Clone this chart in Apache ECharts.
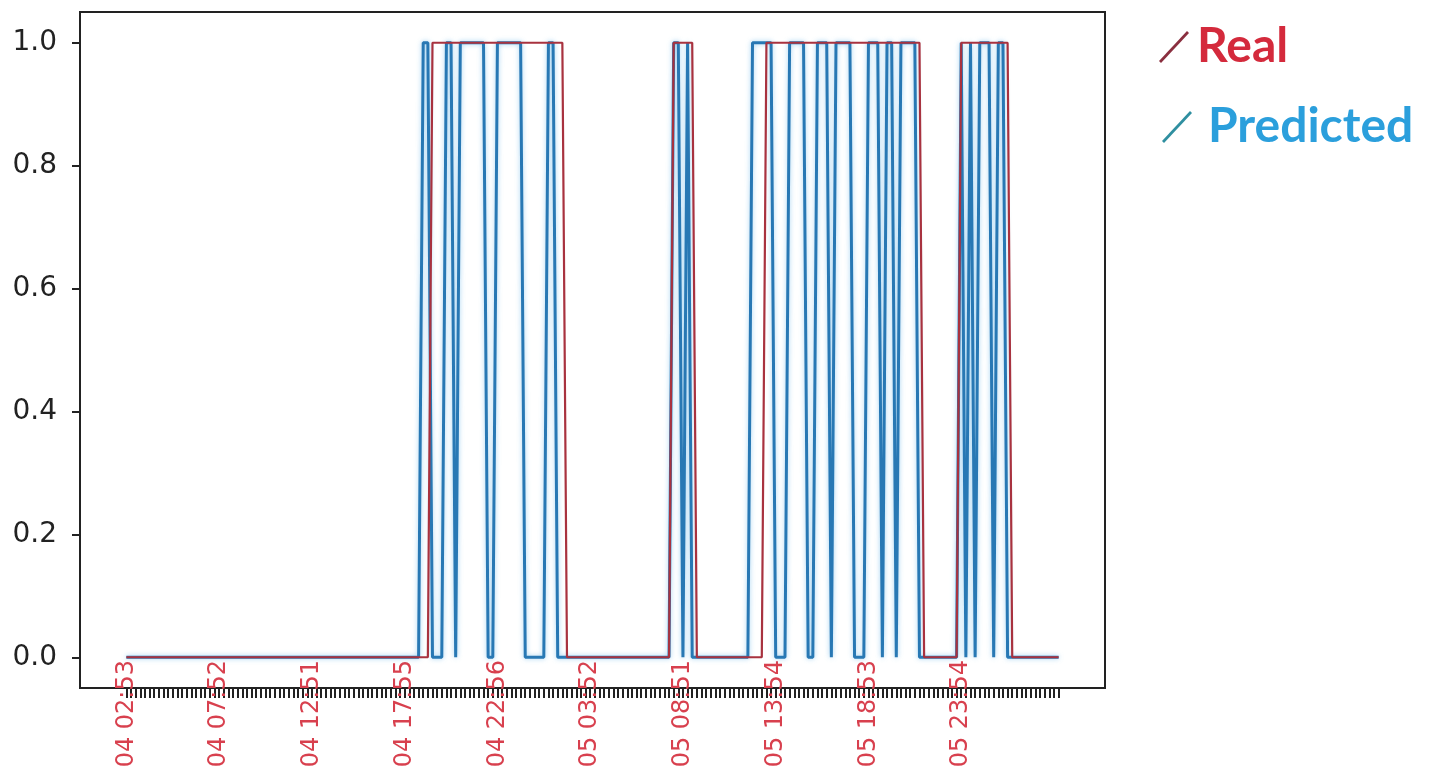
<!DOCTYPE html>
<html>
<head>
<meta charset="utf-8">
<script src="https://cdn.jsdelivr.net/npm/echarts@6.0.0/dist/echarts.min.js"></script>
<style>html,body{margin:0;padding:0;background:#fff}#chart{width:1430px;height:767px}</style>
</head>
<body>
<div id="chart"></div>
<script>
// Tick labels (shown every 20th sample) and their sample positions
const tickLabels = ['04 02:53','04 07:52','04 12:51','04 17:55','04 22:56','05 03:52','05 08:51','05 13:54','05 18:53','05 23:54'];
const tickIndex  = [0,20,40,60,80,100,120,140,160,180];
const yTicks = [0,0.2,0.4,0.6,0.8,1.0];

// Real state per sample (202 samples)
const real = [
0,0,0,0,0,0,0,0,0,0, 0,0,0,0,0,0,0,0,0,0,
0,0,0,0,0,0,0,0,0,0, 0,0,0,0,0,0,0,0,0,0,
0,0,0,0,0,0,0,0,0,0, 0,0,0,0,0,0,0,0,0,0,
0,0,0,0,0,0,1,1,1,1, 1,1,1,1,1,1,1,1,1,1,
1,1,1,1,1,1,1,1,1,1, 1,1,1,1,1,0,0,0,0,0,
0,0,0,0,0,0,0,0,0,0, 0,0,0,0,0,0,0,0,1,1,
1,1,1,0,0,0,0,0,0,0, 0,0,0,0,0,0,0,0,1,1,
1,1,1,1,1,1,1,1,1,1, 1,1,1,1,1,1,1,1,1,1,
1,1,1,1,1,1,1,1,1,1, 1,1,0,0,0,0,0,0,0,0,
1,1,1,1,1,1,1,1,1,1, 1,0,0,0,0,0,0,0,0,0,
0,0
];

// Predicted state per sample (202 samples)
const predicted = [
0,0,0,0,0,0,0,0,0,0, 0,0,0,0,0,0,0,0,0,0,
0,0,0,0,0,0,0,0,0,0, 0,0,0,0,0,0,0,0,0,0,
0,0,0,0,0,0,0,0,0,0, 0,0,0,0,0,0,0,0,0,0,
0,0,0,0,1,1,0,0,0,1, 1,0,1,1,1,1,1,1,0,0,
1,1,1,1,1,1,0,0,0,0, 0,1,1,0,0,0,0,0,0,0,
0,0,0,0,0,0,0,0,0,0, 0,0,0,0,0,0,0,0,1,1,
0,1,0,0,0,0,0,0,0,0, 0,0,0,0,0,1,1,1,1,1,
0,0,0,1,1,1,1,0,0,1, 1,1,0,1,1,1,1,0,0,0,
1,1,1,0,1,1,0,1,1,1, 1,0,0,0,0,0,0,0,0,0,
1,0,1,0,1,1,1,0,1,1, 0,0,0,0,0,0,0,0,0,0,
0,0
];

const samplePos = real.map((_, i) => i);
const labelOf = {};
tickIndex.forEach((p, k) => { labelOf[p] = tickLabels[k]; });

const chart = echarts.init(document.getElementById('chart'), null, {renderer: 'canvas'});
const iconPath = 'path://M0,30 L28,0 L30,2 L2,32 Z';
chart.setOption({
  animation: false,
  backgroundColor: '#ffffff',
  grid: {left: 80, right: 325, top: 12, bottom: 79, show: true, borderColor: '#222', borderWidth: 2,
         backgroundColor: 'transparent', containLabel: false, outerBoundsMode: 'none'},
  xAxis: {
    type: 'value', min: -10, max: 211,
    axisLine: {onZero: false, lineStyle: {color: '#222', width: 2}},
    axisTick: {customValues: samplePos, length: 10, lineStyle: {color: '#222', width: 2}},
    axisLabel: {
      customValues: tickIndex, rotate: 90, margin: -28, fontSize: 24,
      fontFamily: 'DejaVu Sans', color: '#d8404e',
      formatter: v => labelOf[v] || ''
    },
    splitLine: {show: false}
  },
  yAxis: {
    type: 'value', min: -0.05, max: 1.05,
    axisLine: {show: true, onZero: false, lineStyle: {color: '#222', width: 2}},
    axisTick: {show: true, customValues: yTicks, length: 8, lineStyle: {color: '#222', width: 2}},
    axisLabel: {customValues: yTicks, margin: 23, fontSize: 28, fontFamily: 'DejaVu Sans', color: '#222',
      formatter: v => v.toFixed(1)},
    splitLine: {show: false}
  },
  legend: [
    {data: [{name: 'Real', icon: iconPath, itemStyle: {color: '#8a2f3f'}, textStyle: {color: '#d42a3c', padding: [0, 0, 0, 3]}}],
     left: 1154, top: 18, orient: 'vertical', itemWidth: 30, itemHeight: 32, itemGap: 8,
     textStyle: {fontFamily: 'Lato', fontWeight: 'bold', fontSize: 48}},
    {data: [{name: 'Predicted', icon: iconPath, itemStyle: {color: '#2f8fa0'}, textStyle: {color: '#2b9fdc', padding: [0, 0, 0, 11]}}],
     left: 1157, top: 98, orient: 'vertical', itemWidth: 30, itemHeight: 32, itemGap: 8,
     textStyle: {fontFamily: 'Lato', fontWeight: 'bold', fontSize: 48}}
  ],
  series: [
    {name: 'Predicted', type: 'line', symbol: 'none', showSymbol: false,
     data: predicted.map((v, i) => [samplePos[i], v]),
     itemStyle: {color: '#2878b4'},
     lineStyle: {color: '#2878b4', width: 3, shadowColor: 'rgba(120,190,235,0.7)', shadowBlur: 5}},
    {name: 'Real', type: 'line', symbol: 'none', showSymbol: false,
     data: real.map((v, i) => [samplePos[i], v]),
     itemStyle: {color: '#a8323f'},
     lineStyle: {color: '#a8323f', width: 2.2}}
  ]
});
</script>
</body>
</html>
